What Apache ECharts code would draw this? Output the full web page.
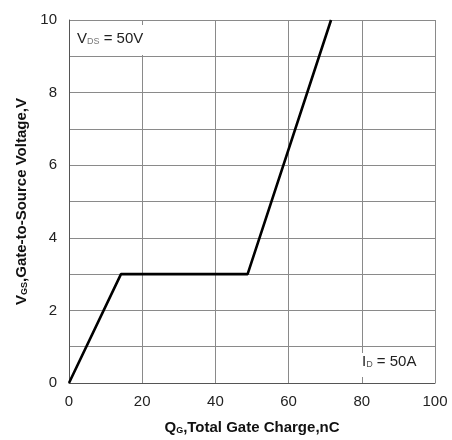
<!DOCTYPE html>
<html><head><meta charset="utf-8">
<script src="https://cdn.jsdelivr.net/npm/echarts@6/dist/echarts.min.js"></script>
<style>html,body{margin:0;padding:0;background:#fff}#c{width:452px;height:440px}</style>
</head><body><div id="c"></div>
<script>
const qg = [0, 14.2, 48.8, 71.6];
const vgs = [0, 3, 3, 10];
const xTicks = [0, 20, 40, 60, 80, 100];
const yTicks = [0, 2, 4, 6, 8, 10];
const FONT = 'Liberation Sans, Arial, Helvetica, sans-serif';

const chart = echarts.init(document.getElementById('c'), null, {renderer: 'canvas'});
chart.setOption({
  backgroundColor: '#fff',
  animation: false,
  grid: {left: 69, right: 17, top: 20, bottom: 57, containLabel: false, outerBoundsMode: 'none'},
  xAxis: {
    type: 'value', min: 0, max: 100, interval: 20,
    name: '{b|Q}{s|G}{b|,Total Gate Charge,nC}',
    nameLocation: 'middle', nameGap: 37,
    nameTextStyle: {rich: {
      b: {fontFamily: FONT, fontSize: 15, fontWeight: 'bold', color: '#111'},
      s: {fontFamily: FONT, fontSize: 9, fontWeight: 'bold', color: '#111', padding: [6, 0, 0, 0]}
    }},
    axisLine: {show: true, lineStyle: {color: '#555', width: 1}},
    axisTick: {show: false},
    axisLabel: {fontFamily: FONT, fontSize: 15, color: '#222', margin: 11,
      formatter: v => xTicks.includes(v) ? String(v) : ''},
    splitLine: {show: true, lineStyle: {color: '#8a8a8a', width: 1}}
  },
  yAxis: {
    type: 'value', min: 0, max: 10, interval: 1,
    name: '{b|V}{s|GS}{b|,Gate-to-Source Voltage,V}',
    nameLocation: 'middle', nameGap: 37, nameRotate: 90,
    nameTextStyle: {rich: {
      b: {fontFamily: FONT, fontSize: 15, fontWeight: 'bold', color: '#111'},
      s: {fontFamily: FONT, fontSize: 9, fontWeight: 'bold', color: '#111', padding: [6, 0, 0, 0]}
    }},
    axisLine: {show: true, lineStyle: {color: '#555', width: 1}},
    axisTick: {show: false},
    axisLabel: {fontFamily: FONT, fontSize: 15, color: '#222', margin: 12,
      formatter: v => yTicks.includes(v) ? String(v) : ''},
    splitLine: {show: true, lineStyle: {color: '#8a8a8a', width: 1}}
  },
  series: [{
    type: 'line', data: qg.map((x, i) => [x, vgs[i]]),
    showSymbol: false, symbol: 'none',
    lineStyle: {color: '#000', width: 2.6}, z: 5
  }],
  graphic: [
    {type: 'rect', left: 70, top: 25, shape: {width: 76, height: 30}, style: {fill: '#fff'}, z: 50},
    {type: 'text', left: 77, top: 31, z: 51, style: {
      text: '{m|V}{s|DS}{m| = 50V}',
      rich: {m: {fontFamily: FONT, fontSize: 15, fill: '#222'},
             s: {fontFamily: FONT, fontSize: 9, fill: '#777', padding: [6, 0, 0, 0]}}
    }},
    {type: 'rect', left: 358, top: 353, shape: {width: 72, height: 24}, style: {fill: '#fff'}, z: 50},
    {type: 'text', left: 362, top: 354, z: 51, style: {
      text: '{m|I}{s|D}{m| = 50A}',
      rich: {m: {fontFamily: FONT, fontSize: 15, fill: '#222'},
             s: {fontFamily: FONT, fontSize: 9, fill: '#555', padding: [6, 0, 0, 0]}}
    }}
  ]
});
</script></body></html>
